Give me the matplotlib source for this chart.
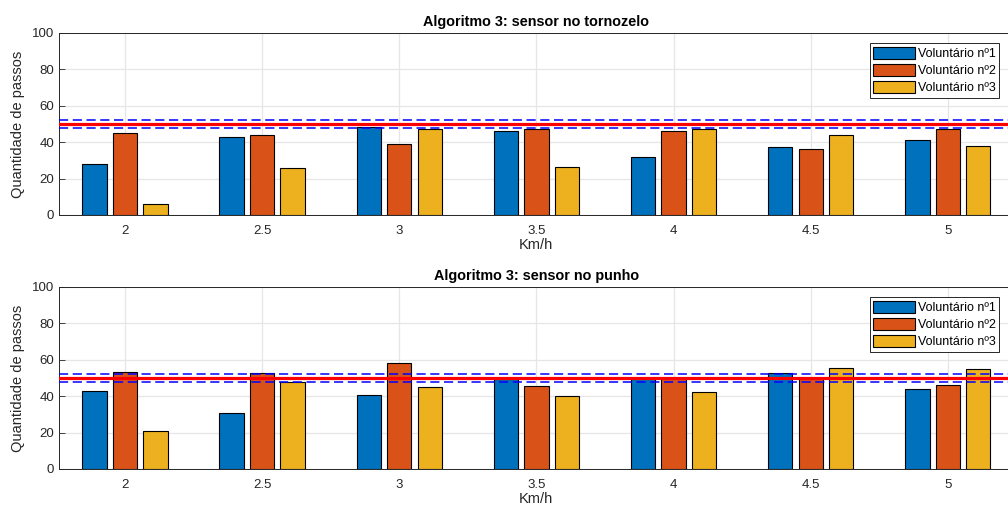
import matplotlib
matplotlib.use('Agg')
import matplotlib.pyplot as plt
import numpy as np

plt.rcParams['font.family'] = ['Liberation Sans', 'DejaVu Sans']

speeds = [2, 2.5, 3, 3.5, 4, 4.5, 5]
tick_labels = ['2', '2.5', '3', '3.5', '4', '4.5', '5']
names = ['Voluntário nº1', 'Voluntário nº2', 'Voluntário nº3']

# Algoritmo 3: sensor no tornozelo
ankle_v1 = [28, 43, 48.5, 46, 32, 37.5, 41]
ankle_v2 = [45, 44, 39, 47.5, 46, 36, 47]
ankle_v3 = [6, 26, 47, 26.5, 47, 44, 38]

# Algoritmo 3: sensor no punho
wrist_v1 = [43, 30.5, 40.5, 49.5, 50, 53, 44]
wrist_v2 = [53.5, 53, 58, 45.5, 50, 50, 46]
wrist_v3 = [21, 48, 45, 40, 42.5, 55.5, 55]

ref_value = 50
ref_band = 2

colors = ['#0072BD', '#D95319', '#EDB120']

fig = plt.figure(figsize=(10.08, 5.08), dpi=100)
ax_top = fig.add_axes([0.0586, 0.5768, 0.947, 0.3583])
ax_bot = fig.add_axes([0.0586, 0.0768, 0.947, 0.3583])

panels = [
    (ax_top, [ankle_v1, ankle_v2, ankle_v3], 'Algoritmo 3: sensor no tornozelo'),
    (ax_bot, [wrist_v1, wrist_v2, wrist_v3], 'Algoritmo 3: sensor no punho'),
]

x = np.array(speeds)
width = 0.0886
step = 0.111

for ax, series, title in panels:
    for i, vals in enumerate(series):
        ax.bar(x + (i - 1) * step, vals, width, color=colors[i],
               edgecolor='black', linewidth=0.8, label=names[i], zorder=2)
    ax.axhline(ref_value, color='red', linewidth=2.3, zorder=4)
    for off in (-ref_band, ref_band):
        ax.axhline(ref_value + off, color='blue', linewidth=1.1,
                   linestyle=(0, (6, 3)), zorder=4)
    ax.set_xlim(1.76, 5.24)
    ax.set_ylim(0, 100)
    ax.set_xticks(speeds)
    ax.set_xticklabels(tick_labels)
    ax.set_yticks([0, 20, 40, 60, 80, 100])
    ax.grid(True, color='#e6e6e6', linewidth=0.9)
    ax.set_axisbelow(True)
    ax.tick_params(direction='in', length=4, labelsize=9.5, colors='#262626',
                   width=0.6)
    ax.tick_params(axis='x', pad=7)
    for sp in ax.spines.values():
        sp.set_color('#262626')
        sp.set_linewidth(0.7)
    ax.set_xlabel('Km/h', fontsize=10.5, color='#262626', labelpad=1)
    ax.set_ylabel('Quantidade de passos', fontsize=10.5, color='#262626',
                  labelpad=5)
    ax.set_title(title, fontsize=10.4, fontweight='bold', pad=5)
    leg = ax.legend(loc='upper right', fontsize=9, fancybox=False,
                    framealpha=1, edgecolor='#262626', handlelength=3.3,
                    handleheight=1.1, handletextpad=0.25, labelspacing=0.3,
                    borderpad=0.3, borderaxespad=0.0,
                    bbox_to_anchor=(0.985, 0.945))
    leg.get_frame().set_linewidth(0.7)

fig.savefig('out.png', dpi=100)
